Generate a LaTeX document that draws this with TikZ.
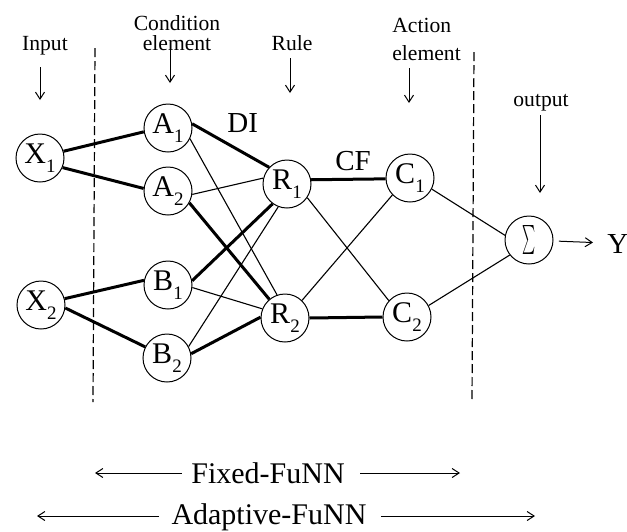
\documentclass[tikz,border=0pt]{standalone}
\usepackage{fontspec}
\setmainfont{Liberation Serif}
\usepackage{graphicx}
\usetikzlibrary{arrows.meta}
\newcommand\nsub[2]{#1\raisebox{-4.8pt}{\fontsize{9.5}{9.5}\selectfont #2}}
\begin{document}
\begin{tikzpicture}[x=0.5pt,y=-0.5pt,
 neuron/.style={circle,draw,line width=0.5pt,minimum size=24pt,inner sep=0pt,font=\fontsize{15}{15}\selectfont},
 thickc/.style={line width=1.5pt},
 thinc/.style={line width=0.55pt},
 arr/.style={line width=0.5pt,-{Straight Barb[length=3.5pt,width=4.5pt]}},
 lab/.style={font=\fontsize{10.8}{12.5}\selectfont,inner sep=0pt},
 big/.style={font=\fontsize{14.5}{16}\selectfont,inner sep=0pt},
 bot/.style={font=\fontsize{15}{17}\selectfont,inner sep=0pt},
 divider/.style={line width=0.6pt,dash pattern=on 4.5pt off 2pt}]
\useasboundingbox (0,0) rectangle (627,531);

% neurons
\node[neuron] (X1) at (40,158) {\nsub{X}{1}};
\node[neuron] (X2) at (41,305) {\nsub{X}{2}};
\node[neuron] (A1) at (168,128) {\nsub{A}{1}};
\node[neuron] (A2) at (168,191) {\nsub{A}{2}};
\node[neuron] (B1) at (168,285) {\nsub{B}{1}};
\node[neuron] (B2) at (167,358) {\nsub{B}{2}};
\node[neuron] (R1) at (287,184) {\nsub{R}{1}};
\node[neuron] (R2) at (285,318) {\nsub{R}{2}};
\node[neuron] (C1) at (410,178) {\nsub{C}{1}};
\node[neuron] (C2) at (407,317) {\nsub{C}{2}};
\node[neuron] (S) at (529,240) {\scalebox{0.62}[1.45]{$\sum$}};
\node[big,anchor=base west] (Y) at (607,253) {Y};

% thick connections
\draw[thickc] (X1.16) -- (A1.189);
\draw[thickc] (X1.-23) -- (A2.174);
\draw[thickc] (X2.15) -- (B1.169);
\draw[thickc] (X2.-7) -- (B2.153);
\draw[thickc] (A1.10) -- (R1.137);
\draw[thickc] (A2.-29) -- (R2.130);
\draw[thickc] (B1.10) -- (R1.-126);
\draw[thickc] (B2.10) -- (R2.178);
\draw[thickc] (R1.10) -- (C1.182);
\draw[thickc] (R2.0) -- (C2.180);

% thin connections
\draw[thinc] (A1.-26) -- (R2.109);
\draw[thinc] (A2.-8) -- (R1.166);
\draw[thinc] (B1.-6) -- (R2.158);
\draw[thinc] (B2.28) -- (R1.-111);
\draw[thinc] (R1.-34) -- (C2.138);
\draw[thinc] (R2.46) -- (C1.224);
\draw[thinc] (C1.-27) -- (S.169);
\draw[thinc] (C2.28) -- (S.218);
\draw[arr,shorten <=2.75pt,shorten >=7pt] (S) -- (Y);

% weight labels
\node[big,anchor=base west] (DI) at (227,132) {DI};
\node[big,anchor=base west] (CF) at (335,170) {CF};

% column labels
\node[lab,anchor=base] (inp) at (45,50) {Input};
\node[lab,anchor=base] (cond1) at (177,30) {Condition};
\node[lab,anchor=base] (cond2) at (177,50) {element};
\node[lab,anchor=base] (rule) at (292,50) {Rule};
\node[lab,anchor=base west] (act1) at (392,32) {Action};
\node[lab,anchor=base west] (act2) at (392,60) {element};
\node[lab,anchor=base] (outp) at (541,106) {output};

\coordinate (ia) at (40,67);  \coordinate (ib) at (40,100);
\coordinate (ca) at (170,45); \coordinate (cb) at (170,83);
\coordinate (ra) at (290,58); \coordinate (rb) at (290,93);
\coordinate (aa) at (409,68); \coordinate (ab) at (409,103);
\coordinate (oa) at (540,115); \coordinate (ob) at (540,193);
\draw[arr] (ia) -- (ib);
\draw[arr] (ca) -- (cb);
\draw[arr] (ra) -- (rb);
\draw[arr] (aa) -- (ab);
\draw[arr] (oa) -- (ob);

% dividers
\coordinate (d1a) at (95,48);  \coordinate (d1b) at (93,402);
\coordinate (d2a) at (474,52); \coordinate (d2b) at (472,402);
\draw[divider] (d1a) -- (d1b);
\draw[divider] (d2a) -- (d2b);

% scope labels
\node[bot,anchor=base] (fixed) at (268,483) {Fixed-FuNN};
\node[bot,anchor=base] (adapt) at (269,524) {Adaptive-FuNN};
\coordinate (fl) at (95,473);  \coordinate (fr) at (460,473);
\coordinate (al) at (37,516);  \coordinate (ar) at (535,516);
\draw[arr] (fixed.west |- fl) ++(-9,0) coordinate (fls) -- (fl);
\draw[arr] (fixed.east |- fr) ++(15,0) coordinate (frs) -- (fr);
\draw[arr] (adapt.west |- al) ++(-12,0) coordinate (als) -- (al);
\draw[arr] (adapt.east |- ar) ++(14,0) coordinate (ars) -- (ar);
\end{tikzpicture}
\end{document}
